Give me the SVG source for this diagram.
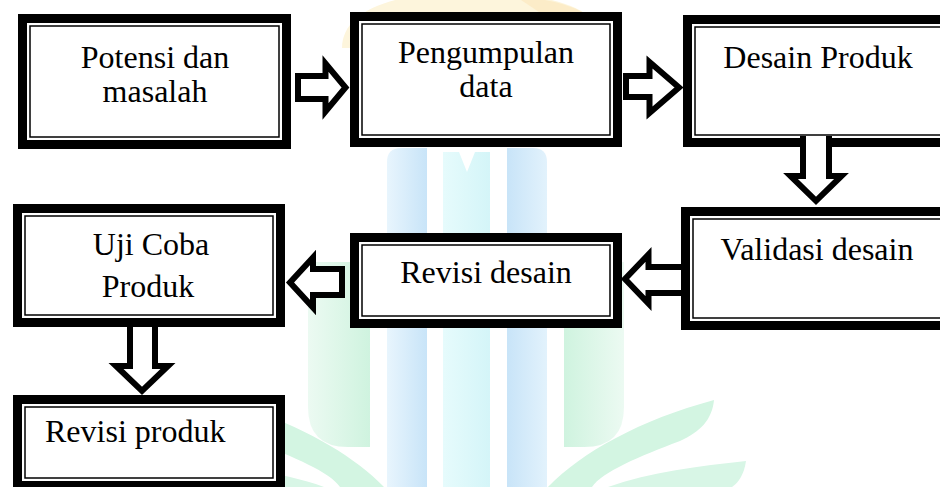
<svg xmlns="http://www.w3.org/2000/svg" width="940" height="487" viewBox="0 0 940 487">
  <style>
    .frame { fill: #ffffff; stroke: #000000; stroke-width: 9; }
    .inner { fill: none; stroke: #000000; stroke-width: 1.5; }
    .lbl { font-family: "Liberation Serif", "Times New Roman", serif; font-size: 32px; fill: #000000; text-anchor: middle; }
    .lbl-start { text-anchor: start; }
    .arrow { fill: #ffffff; stroke: #000000; stroke-width: 6; stroke-linejoin: miter; stroke-miterlimit: 10; }
  </style>
  <defs>
    <linearGradient id="gBlue" x1="0" y1="0" x2="1" y2="0">
      <stop offset="0" stop-color="#e8f5fd"/>
      <stop offset="1" stop-color="#c8e4f8"/>
    </linearGradient>
    <linearGradient id="gBlueR" x1="0" y1="0" x2="1" y2="0">
      <stop offset="0" stop-color="#c8e4f8"/>
      <stop offset="1" stop-color="#e2f2fc"/>
    </linearGradient>
    <linearGradient id="gCyan" x1="0" y1="0" x2="1" y2="0">
      <stop offset="0" stop-color="#e6fbfc"/>
      <stop offset="1" stop-color="#d4f5f8"/>
    </linearGradient>
    <linearGradient id="gGreenL" x1="0" y1="0" x2="1" y2="0">
      <stop offset="0" stop-color="#ecfaf2"/>
      <stop offset="1" stop-color="#cff3df"/>
    </linearGradient>
    <linearGradient id="gGreenR" x1="0" y1="0" x2="1" y2="0">
      <stop offset="0" stop-color="#cff3df"/>
      <stop offset="1" stop-color="#ecfaf2"/>
    </linearGradient>
  </defs>

  <rect x="0" y="0" width="940" height="487" fill="#ffffff"/>

  <!-- faint emblem behind the flow -->
  <g id="watermark">
    <path d="M342,48 C342,12 390,-8 470,-8 C560,-8 606,12 606,48 Z" fill="#fdf5dc"/>
    <path d="M515,-4 C560,0 588,10 598,26 L560,26 Z" fill="#fcecc8"/>
    <path d="M387,490 L387,162 Q387,148 401,148 L427,148 L427,490 Z" fill="url(#gBlue)"/>
    <path d="M443,490 L443,152 L459,152 L467,172 L475,152 L490,152 L490,490 Z" fill="url(#gCyan)"/>
    <path d="M507,490 L507,148 L533,148 Q547,148 547,162 L547,490 Z" fill="url(#gBlueR)"/>
    <path d="M308,262 L370,262 L370,447 L348,447 Q308,447 308,407 Z" fill="url(#gGreenL)"/>
    <path d="M564,262 L624,262 L624,407 Q624,447 584,447 L564,447 Z" fill="url(#gGreenR)"/>
    <path d="M548,487 C582,452 640,420 714,400 C712,420 700,432 680,441 C640,456 602,472 592,487 Z" fill="#d3f5e2"/>
    <path d="M608,487 C650,472 700,466 746,461 C744,475 738,483 732,487 Z" fill="#d8f6e6"/>
    <path d="M384,487 C350,452 292,420 218,400 C220,420 232,432 252,441 C292,456 330,472 340,487 Z" fill="#d3f5e2"/>
    <path d="M324,487 C282,472 232,466 186,461 C188,475 194,483 200,487 Z" fill="#d8f6e6"/>
  </g>

  <g id="node-potensi">
    <rect class="frame" x="22.5" y="18.5" width="264" height="126"/>
    <rect class="inner" x="30" y="26" width="249" height="111"/>
    <text class="lbl" x="155" y="68">Potensi dan</text>
    <text class="lbl" x="155" y="102">masalah</text>
  </g>

  <g id="node-pengumpulan">
    <rect class="frame" x="354.5" y="16.5" width="263" height="126"/>
    <rect class="inner" x="362" y="24" width="248" height="111"/>
    <text class="lbl" x="486" y="63">Pengumpulan</text>
    <text class="lbl" x="486" y="97">data</text>
  </g>

  <g id="node-desain">
    <rect class="frame" x="687.5" y="19.5" width="261" height="123"/>
    <rect class="inner" x="695" y="27" width="246" height="108"/>
    <text class="lbl" x="818" y="68">Desain Produk</text>
  </g>

  <g id="node-validasi">
    <rect class="frame" x="685.5" y="211.5" width="263" height="114"/>
    <rect class="inner" x="693" y="219" width="248" height="99"/>
    <text class="lbl" x="817" y="260">Validasi desain</text>
  </g>

  <g id="node-revisi-desain">
    <rect class="frame" x="354.5" y="237.5" width="263" height="86"/>
    <rect class="inner" x="362" y="245" width="248" height="71"/>
    <text class="lbl" x="486" y="283">Revisi desain</text>
  </g>

  <g id="node-uji-coba">
    <rect class="frame" x="17.5" y="208.5" width="263" height="114"/>
    <rect class="inner" x="25" y="216" width="248" height="99"/>
    <text class="lbl" x="151" y="255">Uji Coba</text>
    <text class="lbl" x="148" y="297">Produk</text>
  </g>

  <g id="node-revisi-produk">
    <rect class="frame" x="17.5" y="399.5" width="263" height="86"/>
    <rect class="inner" x="25" y="407" width="248" height="71"/>
    <text class="lbl lbl-start" x="45" y="442">Revisi produk</text>
  </g>

  <!-- block arrows between the steps -->
  <g id="connectors">
    <path class="arrow" d="M298,76 L325.5,76 L325.5,63.5 L345.5,87.5 L325.5,111.5 L325.5,99 L298,99 Z"/>
    <path class="arrow" d="M626,76 L649.5,76 L649.5,62 L679,87.5 L649.5,113 L649.5,97 L626,97 Z"/>
    <path class="arrow" d="M803,136 L803,176 L790.5,176 L816,200.8 L841.5,176 L829,176 L829,136"/>
    <path class="arrow" d="M684,267 L648.5,267 L648.5,254.5 L625,279 L648.5,303.5 L648.5,293 L684,293 Z"/>
    <path class="arrow" d="M342,269 L313,269 L313,257.5 L290,282.5 L313,307.5 L313,295 L342,295 Z"/>
    <path class="arrow" d="M130,324 L130,366 L116,366 L142,390.8 L168,366 L155,366 L155,324 Z"/>
  </g>
</svg>
